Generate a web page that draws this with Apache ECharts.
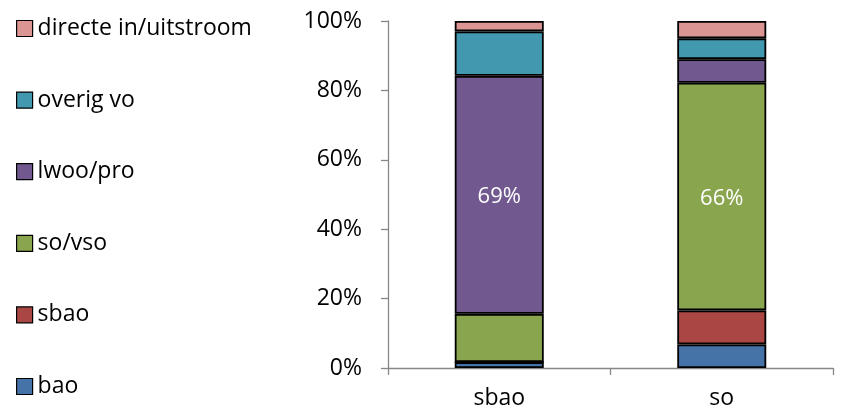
<!DOCTYPE html>
<html>
<head>
<meta charset="utf-8">
<script src="https://cdn.jsdelivr.net/npm/echarts@6/dist/echarts.min.js"></script>
<style>html,body{margin:0;padding:0;background:#fff}#c{width:842px;height:412px}</style>
</head>
<body>
<div id="c"></div>
<script>
var categories = ['sbao', 'so'];
var seriesNames = ['bao', 'sbao', 'so/vso', 'lwoo/pro', 'overig vo', 'directe in/uitstroom'];
var colors = ['#4572A7', '#AA4643', '#89A54E', '#71588F', '#4198AF', '#DB9694'];
var bao = [1.7, 6.8];
var sbao = [0, 9.8];
var soVso = [13.9, 65.6];
var lwooPro = [68.6, 6.8];
var overigVo = [12.8, 6.0];
var directe = [3.0, 5.0];
var labelled = [[], [], [1], [0], [], []]; // data indexes with a percentage label
var yTicks = [0, 20, 40, 60, 80, 100];

var values = [bao, sbao, soVso, lwooPro, overigVo, directe];
var font = '"Open Sans", Lato, sans-serif';

var series = seriesNames.map(function (name, i) {
  return {
    name: name,
    type: 'bar',
    stack: 'total',
    barWidth: '40%',
    itemStyle: { color: colors[i], borderColor: '#000', borderWidth: 1.8 },
    data: values[i].map(function (v, j) {
      var d = { value: v };
      if (labelled[i].indexOf(j) >= 0) {
        d.label = { show: true, position: 'inside', color: '#fff', fontSize: 22, fontFamily: font, offset: [0, 2],
          formatter: function (p) { return Math.round(p.value) + '%'; } };
      }
      return d;
    })
  };
});

var chart = echarts.init(document.getElementById('c'));
chart.setOption({
  animation: false,
  backgroundColor: '#fff',
  grid: { left: 388, right: 9, top: 21, bottom: 44, containLabel: false },
  legend: {
    orient: 'vertical',
    left: 11,
    top: 12,
    height: 400,
    itemWidth: 16,
    itemHeight: 16,
    itemGap: 48.6,
    icon: 'rect',
    data: seriesNames.slice().reverse(),
    itemStyle: { borderColor: '#000', borderWidth: 1.2 },
    textStyle: { fontSize: 23, lineHeight: 22, fontFamily: font, color: '#000' },
    selectedMode: false
  },
  xAxis: {
    type: 'category',
    data: categories,
    axisLine: { lineStyle: { color: '#888', width: 1.3 } },
    axisTick: { show: true, length: 7, lineStyle: { color: '#888', width: 1.3 } },
    axisLabel: { fontSize: 23, fontFamily: font, color: '#000', margin: 19 }
  },
  yAxis: {
    type: 'value',
    min: yTicks[0],
    max: yTicks[yTicks.length - 1],
    interval: yTicks[1] - yTicks[0],
    axisLine: { show: true, lineStyle: { color: '#888', width: 1.3 } },
    axisTick: { show: true, length: 7, lineStyle: { color: '#888', width: 1.3 } },
    splitLine: { show: false },
    axisLabel: { fontSize: 23, fontFamily: font, color: '#000', margin: 26,
      formatter: function (v) { return v + '%'; } }
  },
  series: series
});
</script>
</body>
</html>
